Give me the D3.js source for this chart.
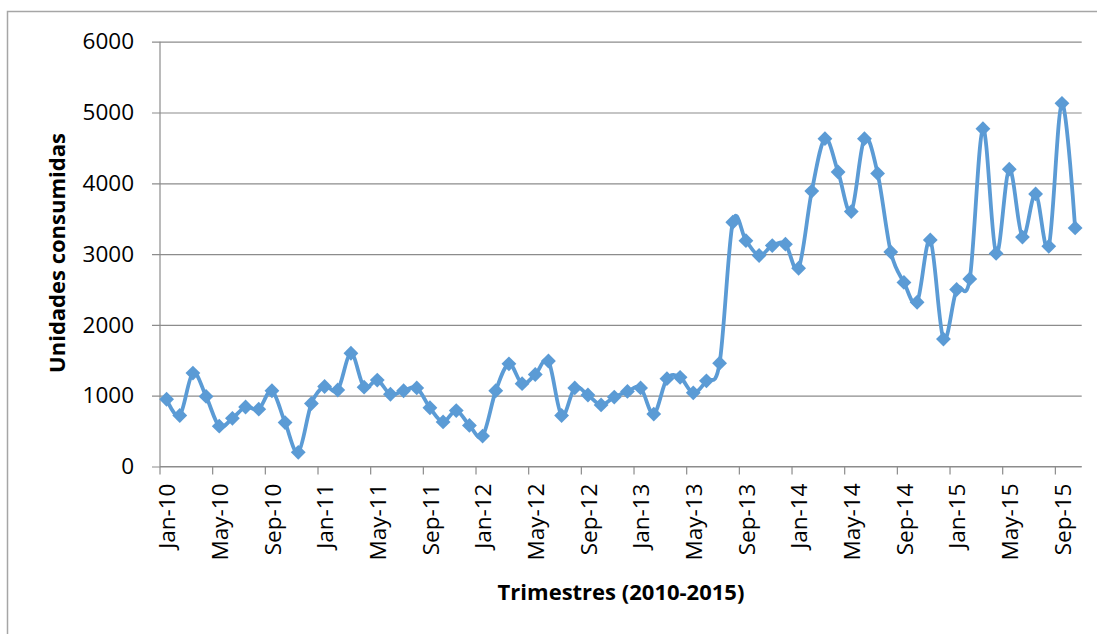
<!DOCTYPE html>
<html lang="es">
<head>
  <meta charset="UTF-8">
  <title>Unidades consumidas 2010-2015</title>
  <script src="https://d3js.org/d3.v7.min.js"></script>
  <style>
    body {
      margin: 0;
      background: #fff;
      font-family: "Open Sans", sans-serif;
    }
    svg {
      display: block;
    }
  </style>
</head>
<body>
  <svg></svg>
  <script>
    // meses (categorias del eje x)
    const meses = [
      "Jan-10","Feb-10","Mar-10","Apr-10","May-10","Jun-10","Jul-10","Aug-10","Sep-10","Oct-10","Nov-10","Dec-10",
      "Jan-11","Feb-11","Mar-11","Apr-11","May-11","Jun-11","Jul-11","Aug-11","Sep-11","Oct-11","Nov-11","Dec-11",
      "Jan-12","Feb-12","Mar-12","Apr-12","May-12","Jun-12","Jul-12","Aug-12","Sep-12","Oct-12","Nov-12","Dec-12",
      "Jan-13","Feb-13","Mar-13","Apr-13","May-13","Jun-13","Jul-13","Aug-13","Sep-13","Oct-13","Nov-13","Dec-13",
      "Jan-14","Feb-14","Mar-14","Apr-14","May-14","Jun-14","Jul-14","Aug-14","Sep-14","Oct-14","Nov-14","Dec-14",
      "Jan-15","Feb-15","Mar-15","Apr-15","May-15","Jun-15","Jul-15","Aug-15","Sep-15","Oct-15"
    ];

    // unidades consumidas por mes
    const unidades = [
      950, 720, 1320, 990, 570, 680, 840, 810, 1070, 620, 200, 890,
      1130, 1080, 1600, 1120, 1220, 1020, 1070, 1110, 830, 630, 790, 580,
      430, 1070, 1450, 1170, 1300, 1490, 720, 1110, 1010, 870, 980, 1060,
      1110, 740, 1240, 1260, 1040, 1210, 1460, 3450, 3190, 2980, 3120, 3140,
      2800, 3890, 4630, 4160, 3600, 4630, 4140, 3030, 2600, 2320, 3200, 1800,
      2500, 2650, 4770, 3010, 4200, 3240, 3850, 3110, 5130, 3370
    ];

    const yTicks = [0, 1000, 2000, 3000, 4000, 5000, 6000];
    // etiqueta cada 4 meses
    const xTicks = meses.filter((d, i) => i % 4 === 0);

    const width = 1097, height = 634;
    const m = { left: 160, right: 1081.7, top: 41.7, bottom: 466.5 };
    const azul = "#5B9BD5";
    const gris = "#8c8c8c";

    const svg = d3.select("svg")
      .attr("width", width)
      .attr("height", height);

    // borde del area del grafico
    svg.append("rect")
      .attr("x", 7.5)
      .attr("y", 11.5)
      .attr("width", width + 10)
      .attr("height", height + 10)
      .attr("fill", "white")
      .attr("stroke", "#a6a6a6")
      .attr("stroke-width", 1.5);

    const x = d3.scaleBand()
      .domain(meses)
      .range([m.left, m.right])
      .padding(0);

    const y = d3.scaleLinear()
      .domain([0, 6000])
      .range([m.bottom, m.top]);

    // lineas de cuadricula + eje y
    const yAxis = svg.append("g")
      .attr("transform", `translate(${m.left},0)`)
      .call(d3.axisLeft(y).tickValues(yTicks).tickSize(8).tickPadding(18).tickFormat(d3.format("d")));
    yAxis.select(".domain").remove();
    yAxis.selectAll(".tick line")
      .attr("x2", m.right - m.left)
      .attr("x1", -8)
      .attr("stroke", gris)
      .attr("stroke-width", 1.2);
    yAxis.selectAll(".tick text")
      .attr("font-family", "Open Sans")
      .attr("font-size", 22.5)
      .attr("fill", "#000");

    svg.append("line")
      .attr("x1", m.left).attr("x2", m.left)
      .attr("y1", m.top).attr("y2", m.bottom)
      .attr("stroke", gris)
      .attr("stroke-width", 1.2);

    // eje x: marcas al inicio de cada banda, etiquetas al centro
    svg.append("line")
      .attr("x1", m.left).attr("x2", m.right)
      .attr("y1", m.bottom).attr("y2", m.bottom)
      .attr("stroke", gris)
      .attr("stroke-width", 1.2);

    svg.append("g")
      .selectAll("line")
      .data(xTicks)
      .join("line")
      .attr("x1", d => x(d)).attr("x2", d => x(d))
      .attr("y1", m.bottom).attr("y2", m.bottom + 8)
      .attr("stroke", gris)
      .attr("stroke-width", 1.2);

    svg.append("g")
      .selectAll("text")
      .data(xTicks)
      .join("text")
      .attr("transform", d => `translate(${x(d) + x.bandwidth() / 2 + 1},${m.bottom + 17}) rotate(-90)`)
      .attr("text-anchor", "end")
      .attr("dy", "0.35em")
      .attr("font-family", "Open Sans")
      .attr("font-size", 22.5)
      .text(d => d);

    // linea suavizada
    const line = d3.line()
      .x((d, i) => x(meses[i]) + x.bandwidth() / 2)
      .y(d => y(d))
      .curve(d3.curveCardinal.tension(0));

    svg.append("path")
      .datum(unidades)
      .attr("fill", "none")
      .attr("stroke", azul)
      .attr("stroke-width", 3.8)
      .attr("stroke-linejoin", "round")
      .attr("d", line);

    // marcadores en rombo
    const rombo = d3.symbol().type(d3.symbolSquare).size(110);
    svg.append("g")
      .selectAll("path")
      .data(unidades)
      .join("path")
      .attr("d", rombo)
      .attr("transform", (d, i) => `translate(${x(meses[i]) + x.bandwidth() / 2},${y(d)}) rotate(45)`)
      .attr("fill", azul);

    // titulos de los ejes
    svg.append("text")
      .attr("x", 621)
      .attr("y", 600)
      .attr("text-anchor", "middle")
      .attr("font-family", "Open Sans")
      .attr("font-weight", "bold")
      .attr("font-size", 22)
      .text("Trimestres (2010-2015)");

    svg.append("text")
      .attr("transform", "translate(65,253) rotate(-90)")
      .attr("text-anchor", "middle")
      .attr("font-family", "Open Sans")
      .attr("font-weight", "bold")
      .attr("font-size", 22)
      .text("Unidades consumidas");
  </script>
</body>
</html>
